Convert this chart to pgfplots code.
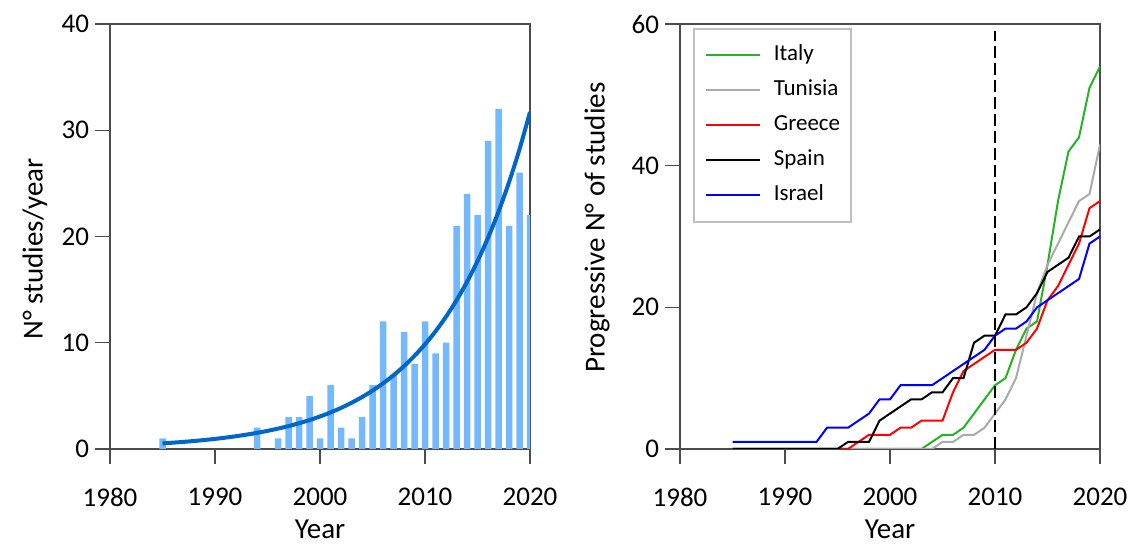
\documentclass[border=0pt]{standalone}
\usepackage{fontspec}
\setmainfont{Carlito}
\usepackage{pgfplots}
\pgfplotsset{compat=1.18}
\definecolor{barblue}{RGB}{116,184,255}
\definecolor{curveblue}{RGB}{0,102,204}
\definecolor{itgreen}{RGB}{34,180,34}
\definecolor{tngray}{RGB}{170,170,170}
\begin{document}
\begin{tikzpicture}
\useasboundingbox (0pt,0pt) rectangle (566.5pt,272pt);
\pgfplotsset{
  myaxis/.style={
    scale only axis, width=210pt, height=212.5pt,
    xmin=1980, xmax=2020, ymin=0,
    xtick={1980,1990,2000,2010,2020},
    xtick pos=bottom, ytick pos=left,
    xtick align=outside, ytick align=outside,
    major tick length=7.5pt,
    axis line style={draw=black!70, line width=0.7pt},
    major tick style={draw=black!70, line width=0.7pt},
    /pgf/number format/assume math mode=true,
    /pgf/number format/1000 sep={},
    ticklabel style={font=\fontsize{13.5}{16}\selectfont},
    xticklabel style={yshift=-8.5pt},
    yticklabel style={xshift=0.5pt},
    label style={font=\fontsize{14.5}{17}\selectfont},
    xlabel=Year,
    xlabel style={at={([yshift=-40.3pt]axis description cs:0.5,0)}, anchor=center},
  }
}
\begin{axis}[myaxis, at={(55pt,47.5pt)}, anchor=south west,
  ymax=40, ytick={0,10,20,30,40},
  ylabel={N° studies/year},
  ylabel style={at={([xshift=-37.5pt]axis description cs:0,0.4706)}, anchor=center}]
\addplot[ybar, bar width=3.25pt, fill=barblue, draw=none] coordinates {
(1985,1) (1994,2) (1996,1) (1997,3) (1998,3) (1999,5) (2000,1) (2001,6)
(2002,2) (2003,1) (2004,3) (2005,6) (2006,12) (2007,7) (2008,11) (2009,8)
(2010,12) (2011,9) (2012,10) (2013,21) (2014,24) (2015,22) (2016,29)
(2017,32) (2018,21) (2019,26) (2020,22)};
\addplot[smooth, line width=2pt, color=curveblue] coordinates {
(1985,0.53) (1986,0.596) (1987,0.670) (1988,0.753) (1989,0.846) (1990,0.951)
(1991,1.069) (1992,1.202) (1993,1.351) (1994,1.518) (1995,1.706) (1996,1.918)
(1997,2.155) (1998,2.423) (1999,2.723) (2000,3.061) (2001,3.440) (2002,3.867)
(2003,4.347) (2004,4.886) (2005,5.491) (2006,6.172) (2007,6.938) (2008,7.798)
(2009,8.765) (2010,9.852) (2011,11.074) (2012,12.448) (2013,13.991)
(2014,15.73) (2015,17.68) (2016,19.87) (2017,22.33) (2018,25.10)
(2019,28.21) (2020,31.71)};
\end{axis}
\begin{axis}[myaxis, at={(340pt,47.5pt)}, anchor=south west,
  ymax=60, ytick={0,20,40,60},
  ylabel={Progressive N° of studies},
  ylabel style={at={([xshift=-41.5pt]axis description cs:0,0.521)}, anchor=center},
  legend style={at={(0.031,0.9906)}, anchor=north west, draw=black!25, line width=0.8pt,
    font=\fontsize{11.5}{13}\selectfont, inner xsep=5.5pt, inner ysep=8pt,
    row sep=7pt, column sep=6.5pt,
    nodes={inner sep=0pt, text height=8pt, text depth=2.5pt, anchor=west}},
  legend cell align=left,
  legend image code/.code={\draw[#1] (0pt,0pt) -- (27pt,0pt);}]
\addplot[itgreen, line width=1pt] coordinates {
(1985,0) (2003,0) (2004,1) (2005,2) (2006,2) (2007,3) (2008,5) (2009,7)
(2010,9) (2011,10) (2012,14) (2013,17) (2014,18) (2015,26) (2016,35)
(2017,42) (2018,44) (2019,51) (2020,54)};
\addlegendentry{Italy}
\addplot[tngray, line width=1pt] coordinates {
(1985,0) (2004,0) (2005,1) (2006,1) (2007,2) (2008,2) (2009,3) (2010,5)
(2011,7) (2012,10) (2013,16) (2014,22) (2015,26) (2016,29) (2017,32)
(2018,35) (2019,36) (2020,43)};
\addlegendentry{Tunisia}
\addplot[red, line width=1pt] coordinates {
(1985,0) (1996,0) (1997,1) (1998,2) (1999,2) (2000,2) (2001,3) (2002,3)
(2003,4) (2004,4) (2005,4) (2006,8) (2007,11) (2008,12) (2009,13) (2010,14)
(2011,14) (2012,14) (2013,15) (2014,17) (2015,21) (2016,23) (2017,26)
(2018,29) (2019,34) (2020,35)};
\addlegendentry{Greece}
\addplot[black, line width=1pt] coordinates {
(1985,0) (1995,0) (1996,1) (1997,1) (1998,1) (1999,4) (2000,5) (2001,6)
(2002,7) (2003,7) (2004,8) (2005,8) (2006,10) (2007,10) (2008,15) (2009,16)
(2010,16) (2011,19) (2012,19) (2013,20) (2014,22) (2015,25) (2016,26)
(2017,27) (2018,30) (2019,30) (2020,31)};
\addlegendentry{Spain}
\addplot[blue, line width=1pt] coordinates {
(1985,1) (1993,1) (1994,3) (1995,3) (1996,3) (1997,4) (1998,5) (1999,7)
(2000,7) (2001,9) (2002,9) (2003,9) (2004,9) (2005,10) (2006,11) (2007,12)
(2008,13) (2009,14) (2010,16) (2011,17) (2012,17) (2013,18) (2014,20)
(2015,21) (2016,22) (2017,23) (2018,24) (2019,29) (2020,30)};
\addlegendentry{Israel}
\addplot[black, line width=1pt, dash pattern=on 6pt off 2.5pt, forget plot] coordinates {
(2010,0) (2010,59)};
\end{axis}
\end{tikzpicture}
\end{document}
